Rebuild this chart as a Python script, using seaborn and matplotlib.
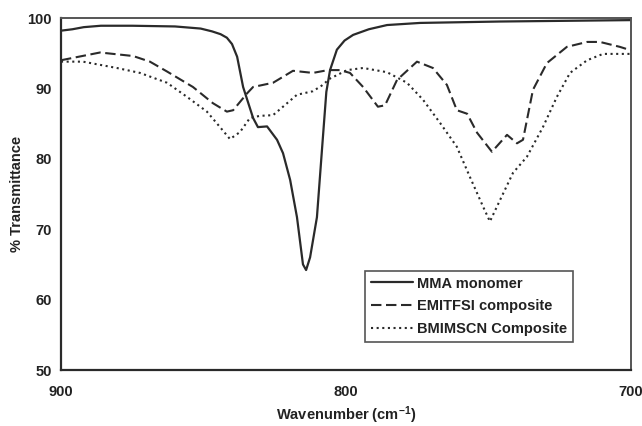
import matplotlib
matplotlib.use("Agg")
import matplotlib.pyplot as plt
import seaborn as sns

# --- data ---
mma_wn = [900, 896, 892, 886, 875, 860, 851, 847, 844, 841.8, 840, 838.2, 836.1, 832.6,
          830.9, 827.7, 824.2, 822.1, 819.6, 817.2, 815.1, 814.0, 812.6, 810.2, 808.3,
          806.9, 805.6, 803.2, 800.5, 797.5, 792, 785.6, 774, 746, 700]
mma_t = [98.2, 98.4, 98.7, 98.9, 98.9, 98.8, 98.5, 98.1, 97.7, 97.2, 96.3, 94.5, 90.2, 85.8,
         84.5, 84.6, 82.7, 80.8, 77.0, 71.7, 65.0, 64.2, 66.0, 71.7, 82.0,
         89.5, 92.6, 95.5, 96.8, 97.6, 98.4, 99.0, 99.3, 99.5, 99.7]

emi_wn = [900, 886.3, 874.7, 868.8, 862.8, 853.7, 846.7, 841.8, 839.6, 834.7, 832.6,
          825.6, 818.6, 811.6, 806.3, 802.1, 798.6, 794.0, 788.8, 786.3, 782.1, 775.1,
          769.5, 764.6, 761.1, 757.5, 754.0, 748.8, 743.5, 740.0, 737.9, 734.4, 729.5,
          722.5, 715.4, 710.9, 703.9, 700]
emi_t = [94.0, 95.1, 94.6, 93.8, 92.4, 90.2, 87.9, 86.7, 86.9, 89.3, 90.2,
         90.8, 92.5, 92.2, 92.6, 92.6, 92.2, 90.2, 87.4, 87.6, 91.2, 93.8,
         92.9, 90.5, 86.9, 86.4, 83.7, 81.0, 83.4, 82.2, 82.7, 89.8, 93.6,
         95.9, 96.6, 96.6, 95.9, 95.4]

bmi_wn = [900, 892.3, 880.4, 872.3, 862.8, 855.8, 848.8, 844.2, 840.7, 837.2, 833.7,
          830.2, 825.6, 822.1, 817.2, 811.6, 808.5, 805.6, 799.6, 794.0, 785.6, 778.6,
          773.0, 767.0, 761.1, 756.5, 751.9, 749.5, 746.0, 741.4, 736.5, 730.9, 726.0,
          721.4, 715.4, 709.8, 700]
bmi_t = [93.8, 93.8, 92.9, 92.2, 90.8, 88.8, 86.7, 84.5, 82.8, 83.8, 85.8,
         86.1, 86.2, 87.4, 89.1, 89.6, 90.4, 91.4, 92.6, 92.9, 92.3, 90.8,
         88.4, 85.1, 81.7, 77.4, 73.2, 71.1, 74.1, 78.0, 80.3, 84.5, 88.8,
         92.2, 94.0, 94.9, 94.9]

series_names = ["MMA monomer", "EMITFSI composite", "BMIMSCN Composite"]
x_ticks = [900, 800, 700]
y_ticks = [50, 60, 70, 80, 90, 100]

sns.set_theme(style="white")
plt.rcParams['font.family'] = ['Liberation Sans', 'DejaVu Sans']
plt.rcParams['mathtext.fontset'] = 'custom'
plt.rcParams['mathtext.rm'] = 'Liberation Sans'
plt.rcParams['mathtext.bf'] = 'Liberation Sans:bold'

FS = 10.5
txtcol = "#222222"
col = "#2a2a2a"

fig = plt.figure(figsize=(6.42, 4.26), dpi=100)
ax = fig.add_axes([61/642, 1-370/426, 570/642, 352/426])

sns.lineplot(x=mma_wn, y=mma_t, ax=ax, color=col, lw=1.6, label=series_names[0],
             sort=False, estimator=None)
sns.lineplot(x=emi_wn, y=emi_t, ax=ax, color=col, lw=1.5, label=series_names[1],
             sort=False, estimator=None)
sns.lineplot(x=bmi_wn, y=bmi_t, ax=ax, color=col, lw=1.5, label=series_names[2],
             sort=False, estimator=None)
lines = ax.get_lines()
lines[1].set_linestyle((0, (5, 2.2)))
lines[2].set_linestyle((0, (1, 1.7)))

ax.set_xlim(900, 700)
ax.set_ylim(50, 100)
ax.set_xticks(x_ticks)
ax.set_yticks(y_ticks)
ax.tick_params(axis='both', direction='out', length=3, width=1.2, color=col,
               labelsize=FS, labelcolor=txtcol)
ax.tick_params(axis='x', pad=8)
ax.tick_params(axis='y', pad=3.5)
for lab in ax.get_xticklabels() + ax.get_yticklabels():
    lab.set_fontweight('bold')

for s in ['left', 'bottom']:
    ax.spines[s].set_color(col)
    ax.spines[s].set_linewidth(1.6)
for s in ['top', 'right']:
    ax.spines[s].set_color("#555555")
    ax.spines[s].set_linewidth(1.4)

ax.set_xlabel("")
ax.set_ylabel("")
fig.text(346/642, 1-415/426, r"Wavenumber (cm$\mathbf{^{-1}}$)", fontsize=FS,
         fontweight='bold', color=txtcol, ha='center', va='center')
fig.text(17/642, 1-194/426, "% Transmittance", fontsize=FS, fontweight='bold',
         color=txtcol, ha='center', va='center', rotation=90)

leg = ax.legend(loc='lower left', bbox_to_anchor=(0.533, 0.08), fancybox=False,
                frameon=True, fontsize=FS, handlelength=2.9, handletextpad=0.25,
                borderpad=0.4, labelspacing=0.6, borderaxespad=0)
leg.get_frame().set_edgecolor(col)
leg.get_frame().set_linewidth(1.2)
for t in leg.get_texts():
    t.set_fontweight('bold')
    t.set_color(txtcol)

fig.savefig("out.png", dpi=100)
